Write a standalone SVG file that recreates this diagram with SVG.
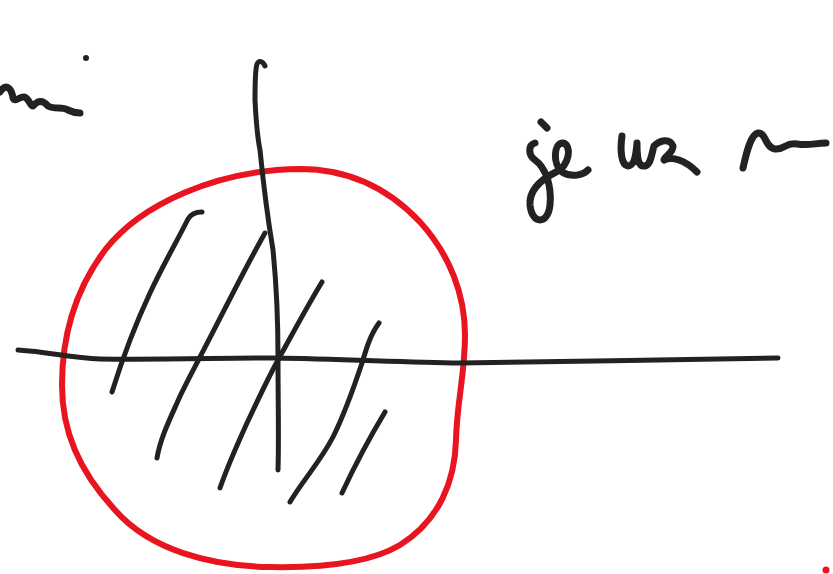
<svg xmlns="http://www.w3.org/2000/svg" width="833" height="574" viewBox="0 0 833 574">
<style>
.ink{fill:none;stroke:#222;stroke-width:5;stroke-linecap:round;stroke-linejoin:round}
.hand{fill:none;stroke:#222;stroke-width:7;stroke-linecap:round;stroke-linejoin:round}
.red{fill:none;stroke:#e8141f;stroke-width:6;stroke-linecap:round;stroke-linejoin:round}
</style>
<rect width="833" height="574" fill="#fff"/>
<g id="circle">
<path class="red" d="M300,169 C350,169 390,190 420,222 C450,255 465,295 465,335 C465,375 457,400 456,440 C455,480 440,520 400,545 C370,563 320,568 270,567 C210,566 150,550 115,510 C78,470 62,430 62,385 C62,335 75,290 105,250 C140,205 215,170 300,169 Z"/>
</g>
<g id="axes">
<path class="ink" d="M18,350 C50,352 70,358 100,359 C160,360 220,358 273,358 C340,359 400,362 460,363 C560,362 680,359 778,358"/>
<path class="ink" d="M265,66 C263,61 259,60 257,64 C255,70 255,85 255,100 C256,120 258,140 260,150 C264,190 268,220 273,250 C277,290 278,320 278,357 C278,400 279,440 278,470"/>
</g>
<g id="hatching">
<path class="ink" d="M202,212 C195,212 191,214 188,219 C175,245 163,265 150,293 C135,325 122,360 112,392"/>
<path class="ink" d="M265,233 C245,268 222,315 200,357 C188,380 181,393 177,403 C168,423 160,440 157,458"/>
<path class="ink" d="M322,282 C305,310 292,335 278,360 C266,382 257,402 247,423 C237,445 228,465 220,488"/>
<path class="ink" d="M379,323 C370,335 366,350 362,363 C353,390 345,413 333,437 C320,462 303,480 290,502"/>
<path class="ink" d="M385,412 C370,437 355,465 342,493"/>
</g>
<g id="scribble-left">
<path class="hand" d="M0,92 C5,84 11,86 13,98 C15,103 20,96 24,97 C29,98 30,106 33,106 C38,100 43,100 48,106 C55,110 62,106 68,110 C72,112 77,113 80,113"/>
<circle cx="86" cy="58" r="3" fill="#222"/>
</g>
<g id="scribble-right">
<path class="hand" d="M541,122 L547,128"/>
<path class="hand" d="M535,143 C528,145 528,155 535,160 C545,167 552,185 550,205 C548,225 532,225 530,205 C529,190 540,180 556,172 C570,165 572,145 563,143 C553,143 553,165 562,172 C572,178 583,175 588,170"/>
<path class="hand" d="M622,136 C620,150 621,165 628,166 C634,166 636,155 637,143 C637,158 638,167 645,166 C651,165 652,152 654,146 C660,140 670,138 673,146 C674,152 663,158 664,160 C672,156 685,160 697,172"/>
<path class="hand" d="M743,168 C746,155 750,135 758,133 C766,132 765,148 775,149 C785,150 785,142 797,144 C810,146 815,143 826,143"/>
</g>
<circle cx="826" cy="570" r="3.5" fill="#e8141f"/>
</svg>
